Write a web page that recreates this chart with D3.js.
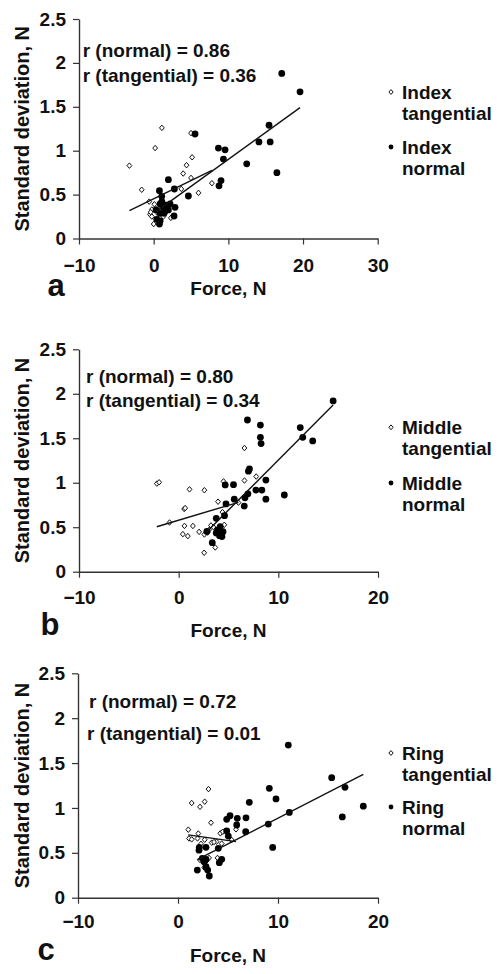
<!DOCTYPE html>
<html>
<head>
<meta charset="utf-8">
<script src="https://cdn.jsdelivr.net/npm/d3@7/dist/d3.min.js"></script>
<style>
  html, body { margin: 0; padding: 0; background: #fff; }
  svg { display: block; }
  text { font-family: "Liberation Sans", Arial, Helvetica, sans-serif; font-weight: bold; fill: #111; }
</style>
</head>
<body>
<svg id="chart" width="504" height="974"></svg>
<script>
// ---------- data ----------
const yTickValues = [0, 0.5, 1, 1.5, 2, 2.5];
const xTicksA = [-10, 0, 10, 20, 30];
const xTicksBC = [-10, 0, 10, 20];
const panelLetters = ["a", "b", "c"];
const fingerNames = ["Index", "Middle", "Ring"];
const rNormal = ["0.86", "0.80", "0.72"];
const rTangential = ["0.36", "0.34", "0.01"];

const indexTangential = [[1.1,1.26],[5.0,1.2],[0.2,1.03],[-3.25,0.83],[5.15,0.925],[4.4,0.835],[3.95,0.74],[5.0,0.69],[7.8,0.63],[6.0,0.52],[-1.6,0.555],[3.7,0.565],[-0.6,0.42],[0.1,0.39],[-0.25,0.33],[0.4,0.33],[-0.5,0.275],[-0.25,0.25],[1.3,0.25],[2.3,0.235],[0.0,0.165],[0.6,0.28],[-0.4,0.3],[1.6,0.3]];
const indexNormal = [[17.15,1.88],[19.6,1.67],[15.45,1.29],[5.54,1.19],[14.1,1.10],[15.6,1.10],[8.67,1.03],[9.56,1.01],[9.34,0.905],[12.46,0.85],[16.5,0.75],[9.02,0.66],[8.75,0.60],[1.97,0.67],[0.77,0.545],[2.77,0.564],[1.08,0.48],[4.65,0.484],[0.86,0.393],[1.21,0.36],[1.66,0.38],[2.2,0.393],[2.86,0.355],[0.32,0.325],[0.86,0.287],[1.39,0.287],[1.97,0.325],[0.41,0.218],[0.86,0.2],[0.77,0.165],[2.73,0.256],[1.1,0.42],[1.5,0.31]];
const middleTangential = [[-2.19,0.99],[-1.96,1.005],[1.09,0.926],[2.58,0.916],[6.6,1.39],[4.5,1.015],[6.6,1.025],[7.78,1.07],[3.95,0.787],[6.0,0.776],[0.55,0.705],[0.65,0.715],[4.4,0.67],[-0.92,0.553],[0.58,0.515],[1.43,0.514],[0.42,0.422],[0.92,0.4],[2.05,0.448],[2.58,0.418],[3.24,0.52],[3.5,0.5],[4.58,0.527],[3.67,0.272],[2.56,0.213],[2.9,0.44],[3.05,0.47]];
const middleNormal = [[15.5,1.92],[6.9,1.705],[8.2,1.648],[12.2,1.62],[8.2,1.51],[12.45,1.51],[8.27,1.44],[13.45,1.47],[7.1,1.155],[7.0,1.13],[8.75,1.03],[5.5,0.978],[4.67,0.976],[7.75,0.918],[8.35,0.918],[6.95,0.875],[10.6,0.862],[8.75,0.815],[6.65,0.83],[5.58,0.815],[6.58,0.738],[4.75,0.762],[4.6,0.63],[3.77,0.6],[2.83,0.452],[3.77,0.435],[4.17,0.506],[4.1,0.405],[4.34,0.395],[4.45,0.45],[3.37,0.326],[3.9,0.47]];
const ringTangential = [[3.05,1.21],[1.37,1.055],[2.2,1.012],[2.67,1.07],[3.3,0.835],[1.03,0.758],[1.1,0.66],[1.37,0.65],[2.03,0.715],[1.95,0.66],[2.67,0.646],[3.37,0.613],[3.85,0.624],[4.23,0.717],[4.48,0.735],[5.8,0.762],[5.37,0.643],[4.37,0.603],[3.1,0.443],[3.95,0.443],[2.2,0.42],[2.63,0.335],[2.85,0.41],[3.6,0.62],[2.3,0.6]];
const ringNormal = [[11.03,1.70],[15.37,1.337],[16.7,1.23],[9.13,1.218],[9.8,1.10],[7.13,1.063],[18.53,1.02],[11.13,0.95],[16.43,0.9],[5.2,0.913],[4.87,0.873],[5.93,0.884],[6.8,0.89],[5.87,0.81],[9.03,0.82],[6.77,0.735],[4.87,0.743],[5.03,0.687],[9.47,0.56],[2.13,0.561],[2.8,0.561],[4.03,0.55],[2.1,0.53],[2.43,0.439],[2.8,0.428],[4.37,0.428],[4.13,0.39],[1.93,0.308],[2.8,0.345],[2.97,0.308],[3.13,0.242],[2.6,0.4]];

// trend line end points
const fitIndexTangential = [[-3.25,0.317],[7.8,0.775]];
const fitIndexNormal = [[0.32,0.306],[19.6,1.49]];
const fitMiddleTangential = [[-2.2,0.505],[6.0,0.78]];
const fitMiddleNormal = [[2.83,0.45],[15.5,1.873]];
const fitRingTangential = [[1.03,0.70],[5.8,0.625]];
const fitRingNormal = [[1.93,0.423],[18.53,1.374]];

// ---------- layout ----------
const panels = [
  { tang: indexTangential, norm: indexNormal, fitT: fitIndexTangential, fitN: fitIndexNormal,
    xDomain: [-10, 30], xTicks: xTicksA, xRange: [79, 377.7], yRange: [238.5, 19],
    rX: [82.7, 82.7], rY: [56.5, 81.5], legY: [92, 113, 147, 168],
    letterX: 56, letterY: 296, forceY: 294.5, tickPad: 14.5 },
  { tang: middleTangential, norm: middleNormal, fitT: fitMiddleTangential, fitN: fitMiddleNormal,
    xDomain: [-10, 20], xTicks: xTicksBC, xRange: [79, 378], yRange: [571.7, 349.3],
    rX: [86, 86], rY: [382.5, 406.5], legY: [427.3, 448.3, 483, 504],
    letterX: 50, letterY: 635, forceY: 636.5, tickPad: 13 },
  { tang: ringTangential, norm: ringNormal, fitT: fitRingTangential, fitN: fitRingNormal,
    xDomain: [-10, 20], xTicks: xTicksBC, xRange: [78, 378], yRange: [897.7, 673.3],
    rX: [89, 87], rY: [708, 739.5], legY: [753, 774, 807, 828],
    letterX: 46, letterY: 960, forceY: 961.5, tickPad: 10.5 }
];

const svg = d3.select("#chart");
const diamond = (s) => `M0,${-s*1.15}L${s},0L0,${s*1.15}L${-s},0Z`;

panels.forEach((p, i) => {
  const g = svg.append("g");
  const x = d3.scaleLinear().domain(p.xDomain).range(p.xRange);
  const y = d3.scaleLinear().domain([0, 2.5]).range(p.yRange);

  // axes
  const xAxis = d3.axisBottom(x).tickValues(p.xTicks).tickSize(6).tickSizeOuter(0).tickPadding(p.tickPad).tickFormat(d3.format("d"));
  const yAxis = d3.axisLeft(y).tickValues(yTickValues).tickSize(6).tickSizeOuter(0).tickPadding(7).tickFormat(d => String(d));
  const gx = g.append("g").attr("transform", `translate(0,${p.yRange[0]})`).call(xAxis);
  const gy = g.append("g").attr("transform", `translate(${p.xRange[0]},0)`).call(yAxis);
  [gx, gy].forEach(ax => {
    ax.selectAll("path.domain").attr("stroke", "#333").attr("stroke-width", 1.4);
    ax.selectAll(".tick line").attr("stroke", "#333").attr("stroke-width", 1.2);
    ax.selectAll(".tick text").attr("font-size", 19).attr("font-family", '"Liberation Sans", Arial, sans-serif').attr("font-weight", "bold").attr("fill", "#111");
  });

  // markers
  g.append("g").selectAll("path").data(p.tang).join("path")
    .attr("d", diamond(2.4))
    .attr("transform", d => `translate(${x(d[0])},${y(d[1])})`)
    .attr("fill", "#fff").attr("stroke", "#111").attr("stroke-width", 1);
  g.append("g").selectAll("circle").data(p.norm).join("circle")
    .attr("cx", d => x(d[0])).attr("cy", d => y(d[1])).attr("r", 3.4)
    .attr("fill", "#000");

  // trend lines
  const line = d3.line().x(d => x(d[0])).y(d => y(d[1]));
  [p.fitT, p.fitN].forEach(f => {
    g.append("path").attr("d", line(f)).attr("fill", "none").attr("stroke", "#111").attr("stroke-width", 1.4);
  });

  // r texts
  g.append("text").attr("x", p.rX[0]).attr("y", p.rY[0]).attr("font-size", 19).text(`r (normal) = ${rNormal[i]}`);
  g.append("text").attr("x", p.rX[1]).attr("y", p.rY[1]).attr("font-size", 19).text(`r (tangential) = ${rTangential[i]}`);

  // axis titles
  const cy = (p.yRange[0] + p.yRange[1]) / 2;
  g.append("text").attr("transform", `translate(21.7,${cy}) rotate(-90)`)
    .attr("text-anchor", "middle").attr("dominant-baseline", "central").attr("font-size", 20)
    .text("Standard deviation, N");
  g.append("text").attr("x", (p.xRange[0] + p.xRange[1]) / 2).attr("y", p.forceY)
    .attr("text-anchor", "middle").attr("font-size", 19).text("Force, N");
  g.append("text").attr("x", p.letterX).attr("y", p.letterY).attr("text-anchor", "middle")
    .attr("font-size", 31).text(panelLetters[i]);

  // legend
  const lg = g.append("g");
  lg.append("path").attr("d", diamond(2.1)).attr("transform", `translate(391,${p.legY[0]})`)
    .attr("fill", "#fff").attr("stroke", "#111").attr("stroke-width", 1);
  lg.append("circle").attr("cx", 391).attr("cy", p.legY[2]).attr("r", 2.4).attr("fill", "#000");
  const legTexts = [fingerNames[i], "tangential", fingerNames[i], "normal"];
  legTexts.forEach((t, k) => {
    lg.append("text").attr("x", 402).attr("y", p.legY[k]).attr("dominant-baseline", "central")
      .attr("font-size", 19).text(t);
  });
});
</script>
</body>
</html>
